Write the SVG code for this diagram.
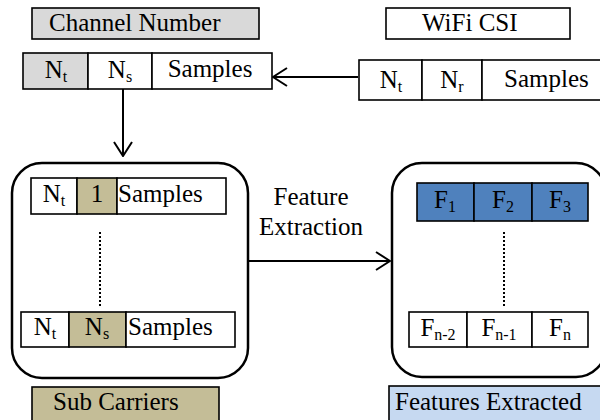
<svg xmlns="http://www.w3.org/2000/svg" width="600" height="420" viewBox="0 0 600 420" font-family="'Liberation Serif', 'DejaVu Serif', serif">
<style>
text{font-family:'Liberation Serif','DejaVu Serif',serif;font-size:25px;fill:#000}
.c{text-anchor:middle}
.s{font-size:16px}
.cell{stroke:#000;stroke-width:1.6}
.w{fill:#fff}
.g{fill:#d9d9d9}
.t{fill:#c4bd97}
.b{fill:#4f81bd}
.lb{fill:#c6d9f1}
.rb{fill:#fff;stroke:#000;stroke-width:2.5}
.ln{stroke:#000;stroke-width:2;fill:none}
.dot{stroke:#000;stroke-width:2;stroke-dasharray:2 2;fill:none}
</style>
<defs>
<marker id="ah" markerWidth="16" markerHeight="20" refX="15" refY="10" orient="auto" markerUnits="userSpaceOnUse">
<path d="M1,1 L15,10 L1,19" fill="none" stroke="#000" stroke-width="2"/>
</marker>
</defs>
<rect width="600" height="420" fill="#fff"/>
<g id="connectors">
<line class="ln" x1="123" y1="89" x2="123" y2="156" marker-end="url(#ah)"/>
<line class="ln" x1="358" y1="77" x2="273" y2="77" marker-end="url(#ah)"/>
<line class="ln" x1="248" y1="261" x2="390" y2="261" marker-end="url(#ah)"/>
</g>
<g id="channel-number">
<rect class="cell g" x="32" y="8" width="227" height="31"/>
<text x="49" y="31">Channel Number</text>
</g>
<g id="wifi-csi">
<rect class="cell w" x="386" y="8" width="184" height="31"/>
<text x="422" y="31">WiFi CSI</text>
</g>
<g id="channel-row">
<rect class="cell g" x="23" y="53" width="65" height="36"/>
<rect class="cell w" x="88" y="53" width="64" height="36"/>
<rect class="cell w" x="152" y="53" width="120" height="36"/>
<text class="c" x="56" y="78">N<tspan class="s" dy="4">t</tspan></text>
<text class="c" x="120" y="78">N<tspan class="s" dy="4">s</tspan></text>
<text class="c" x="210" y="77">Samples</text>
</g>
<g id="wifi-row">
<rect class="cell w" x="359" y="60" width="63" height="40"/>
<rect class="cell w" x="422" y="60" width="60" height="40"/>
<rect class="cell w" x="482" y="60" width="122" height="40"/>
<text class="c" x="391" y="88">N<tspan class="s" dy="4">t</tspan></text>
<text class="c" x="452" y="88">N<tspan class="s" dy="4">r</tspan></text>
<text x="504" y="87">Samples</text>
</g>
<g id="sub-carrier-group">
<rect class="rb" x="12" y="163" width="236" height="215" rx="30" ry="30"/>
<rect class="cell w" x="31" y="178" width="46" height="36"/>
<rect class="cell t" x="77" y="178" width="40" height="36"/>
<rect class="cell w" x="117" y="178" width="109" height="36"/>
<text class="c" x="54" y="202">N<tspan class="s" dy="4">t</tspan></text>
<text class="c" x="97" y="202">1</text>
<text x="118" y="202">Samples</text>
<line class="dot" x1="100" y1="232" x2="100" y2="306"/>
<rect class="cell w" x="21" y="312" width="48" height="35"/>
<rect class="cell t" x="69" y="312" width="57" height="35"/>
<rect class="cell w" x="126" y="312" width="109" height="35"/>
<text class="c" x="45" y="335">N<tspan class="s" dy="4">t</tspan></text>
<text class="c" x="97" y="335">N<tspan class="s" dy="4">s</tspan></text>
<text x="128" y="335">Samples</text>
</g>
<g id="feature-label">
<text class="c" x="311" y="205">Feature</text>
<text class="c" x="311" y="235">Extraction</text>
</g>
<g id="features-group">
<rect class="rb" x="392" y="163" width="214" height="214" rx="30" ry="30"/>
<rect class="cell b" x="417" y="183" width="57" height="38"/>
<rect class="cell b" x="474" y="183" width="58" height="38"/>
<rect class="cell b" x="532" y="183" width="56" height="38"/>
<text class="c" x="445" y="208">F<tspan class="s" dy="4">1</tspan></text>
<text class="c" x="503" y="208">F<tspan class="s" dy="4">2</tspan></text>
<text class="c" x="560" y="208">F<tspan class="s" dy="4">3</tspan></text>
<line class="dot" x1="504" y1="232" x2="504" y2="307"/>
<rect class="cell w" x="409" y="312" width="58" height="35"/>
<rect class="cell w" x="467" y="312" width="65" height="35"/>
<rect class="cell w" x="532" y="312" width="56" height="35"/>
<text class="c" x="438" y="336">F<tspan class="s" dy="4">n-2</tspan></text>
<text class="c" x="499" y="336">F<tspan class="s" dy="4">n-1</tspan></text>
<text class="c" x="560" y="336">F<tspan class="s" dy="4">n</tspan></text>
</g>
<g id="sub-carriers">
<rect class="cell t" x="32" y="387" width="187" height="34"/>
<text x="53" y="410">Sub Carriers</text>
</g>
<g id="features-extracted">
<rect class="cell lb" x="389" y="386" width="215" height="36"/>
<text x="395" y="410">Features Extracted</text>
</g>
</svg>
